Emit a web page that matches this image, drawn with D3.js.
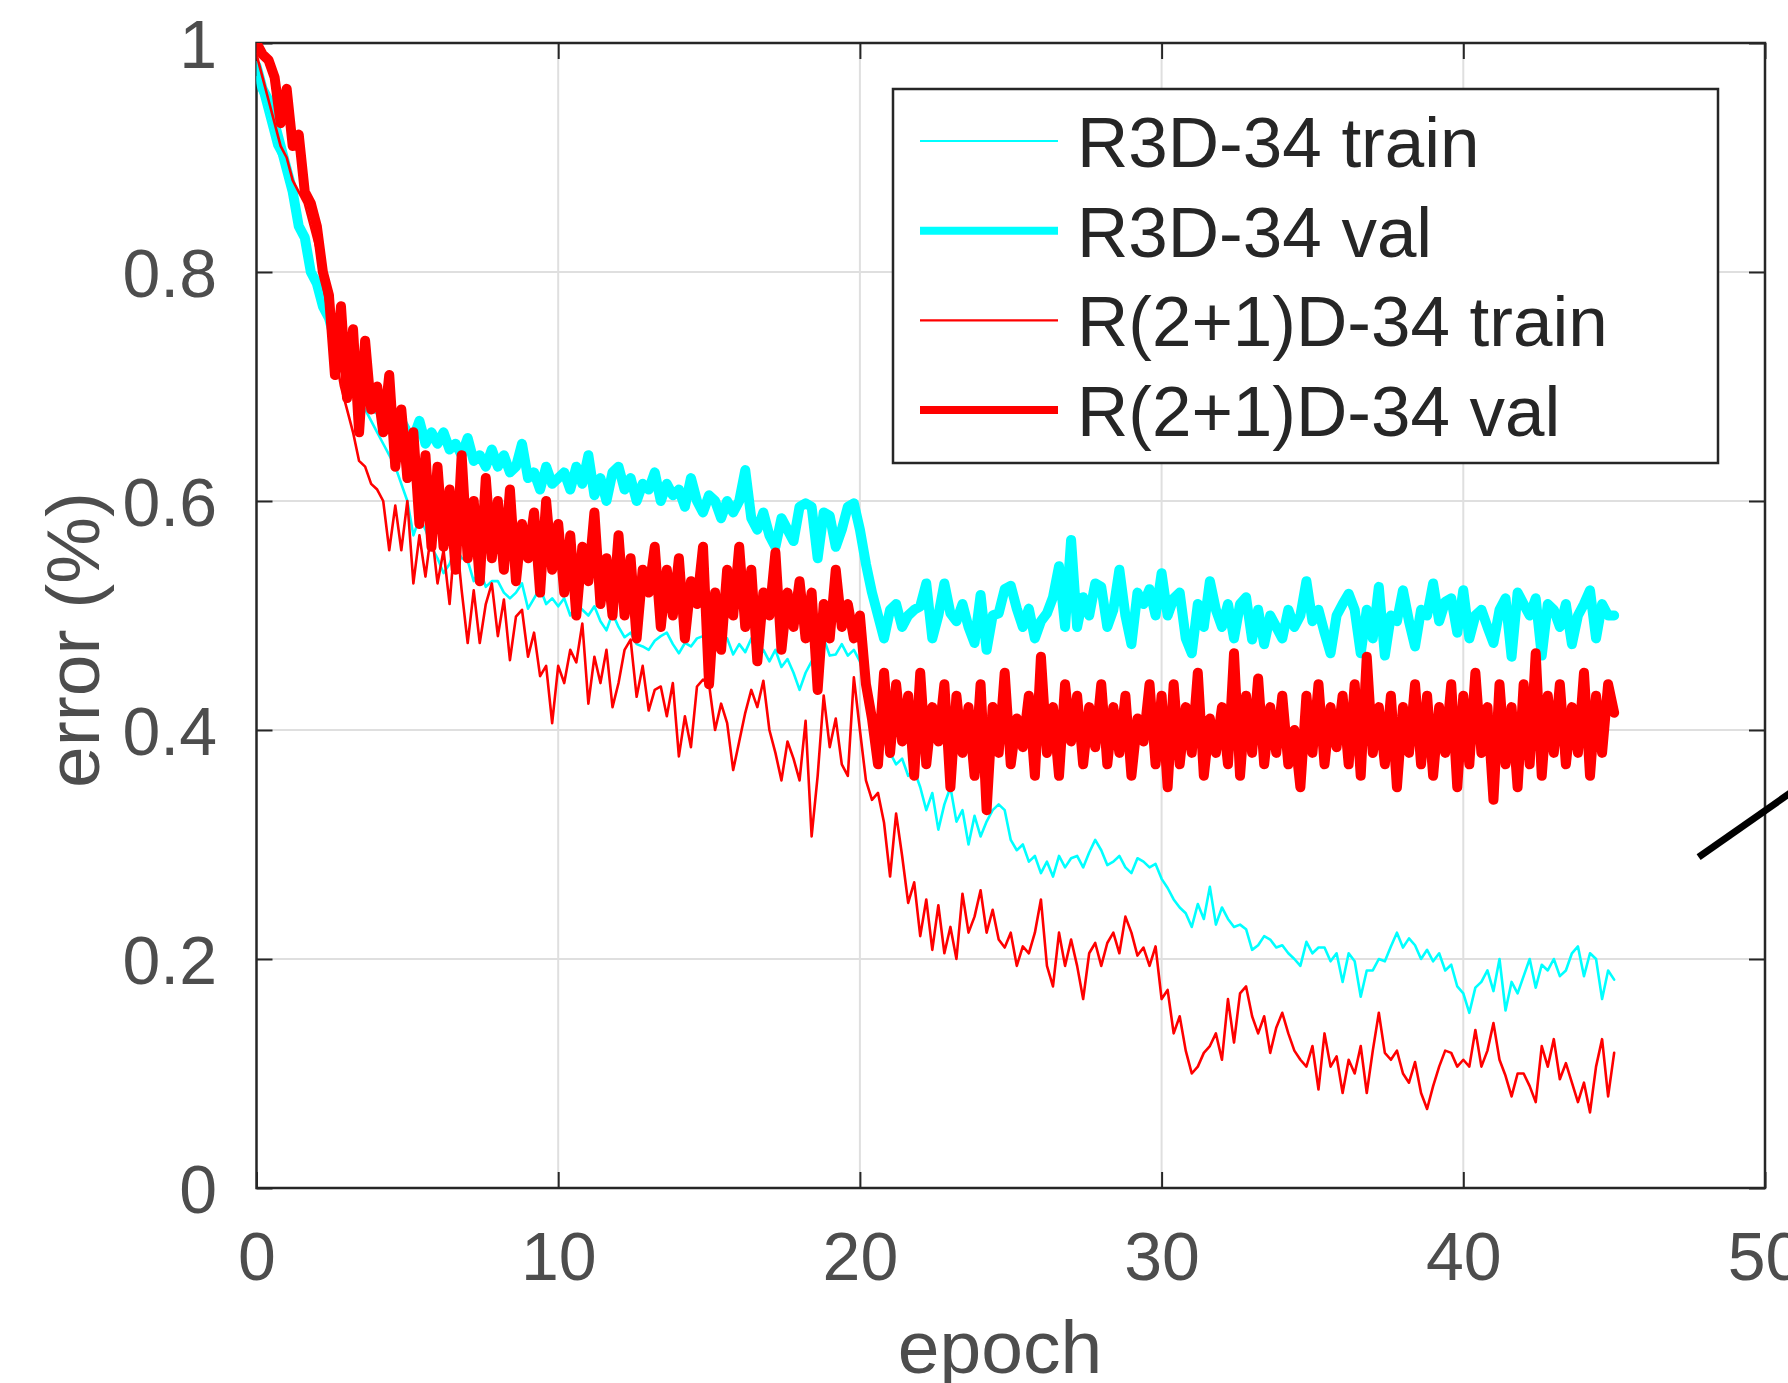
<!DOCTYPE html>
<html>
<head>
	<title>error vs epoch</title>
	<meta charset="UTF-8">
	<style>
		body {
			margin: 0;
			background: #fff;
		}

		text {
			font-family: "Liberation Sans", Arial, Helvetica, sans-serif;
		}

		.grid line {
			stroke: #dfdfdf;
			stroke-width: 2;
		}

		.series {
			fill: none;
			stroke-linejoin: round;
			stroke-linecap: round;
		}
	</style>
</head>
<body>
</body>
<script src="https://d3js.org/d3.v7.min.js"></script>
<script type="text/javascript">

'use strict';

// one sample every 0.2 epoch, starting at epoch 0
var epochStep = 0.2;

var r3dTrain = [
	.97,.95,.93,.91,.90,.88,.86,.85,.83,.81,
	.79,.77,.76,.74,.73,.71,.70,.69,.68,.67,
	.66,.65,.64,.63,.615,.60,.57,.585,.575,.56,
	.55,.537,.545,.56,.55,.548,.53,.54,.525,.53,
	.53,.52,.515,.52,.528,.506,.515,.524,.51,.515,
	.508,.515,.50,.51,.505,.50,.508,.495,.487,.502,
	.49,.481,.485,.475,.473,.47,.478,.482,.485,.475,
	.467,.476,.473,.48,.482,.475,.47,.478,.48,.466,
	.475,.468,.48,.465,.47,.46,.47,.455,.462,.45,
	.435,.45,.46,.47,.48,.465,.466,.475,.465,.47,
	.46,.44,.42,.40,.39,.38,.37,.375,.36,.365,
	.35,.33,.345,.313,.335,.35,.32,.33,.30,.325,
	.307,.32,.33,.335,.33,.304,.295,.30,.285,.29,
	.275,.285,.272,.29,.28,.288,.29,.28,.293,.304,
	.295,.282,.285,.29,.28,.275,.288,.285,.28,.283,
	.27,.262,.252,.245,.24,.228,.248,.235,.263,.23,
	.245,.235,.228,.23,.226,.208,.212,.22,.217,.21,
	.212,.205,.20,.194,.215,.205,.21,.21,.198,.205,
	.18,.205,.198,.167,.19,.19,.20,.198,.211,.223,
	.21,.218,.212,.20,.208,.198,.205,.19,.195,.176,
	.17,.153,.175,.18,.19,.172,.20,.155,.18,.17,
	.185,.20,.175,.195,.19,.20,.185,.19,.205,.211,
	.185,.205,.20,.165,.19,.182
];

var r3dVal = [
	.98,.96,.95,.93,.91,.89,.87,.84,.83,.80,
	.79,.77,.76,.74,.73,.72,.71,.70,.69,.69,
	.68,.68,.67,.665,.67,.66,.655,.67,.65,.66,
	.65,.66,.645,.65,.64,.655,.635,.64,.63,.645,
	.63,.64,.625,.63,.65,.62,.625,.61,.63,.615,
	.62,.625,.61,.63,.615,.64,.605,.62,.60,.625,
	.63,.61,.62,.60,.615,.61,.625,.60,.615,.605,
	.61,.595,.62,.60,.59,.605,.60,.585,.60,.59,
	.60,.627,.585,.575,.59,.57,.56,.585,.575,.565,
	.595,.598,.595,.55,.59,.587,.56,.575,.595,.598,
	.575,.545,.52,.50,.48,.505,.51,.49,.50,.505,
	.508,.528,.48,.50,.528,.502,.495,.51,.49,.476,
	.518,.47,.50,.502,.523,.526,.506,.49,.506,.48,
	.495,.502,.516,.543,.49,.566,.49,.516,.50,.528,
	.525,.49,.505,.54,.50,.475,.52,.51,.523,.50,
	.537,.50,.515,.52,.48,.467,.51,.49,.53,.505,
	.49,.51,.48,.51,.516,.479,.505,.475,.50,.49,
	.48,.505,.49,.50,.53,.495,.505,.485,.467,.50,
	.51,.519,.505,.467,.505,.48,.525,.465,.50,.495,
	.522,.495,.473,.505,.50,.528,.495,.512,.515,.485,
	.522,.48,.50,.505,.49,.476,.505,.515,.464,.52,
	.51,.50,.515,.465,.51,.505,.49,.51,.475,.50,
	.51,.522,.48,.51,.50,.50
];

var r21dTrain = [
	.99,.97,.95,.93,.91,.90,.88,.87,.86,.84,
	.82,.79,.76,.73,.70,.68,.66,.635,.63,.615,
	.61,.60,.557,.596,.557,.60,.528,.57,.534,.575,
	.528,.557,.51,.575,.522,.476,.522,.476,.51,.528,
	.482,.514,.461,.499,.505,.464,.485,.447,.456,.406,
	.456,.441,.47,.459,.493,.423,.464,.441,.47,.42,
	.441,.47,.479,.429,.456,.417,.435,.438,.412,.441,
	.377,.412,.385,.438,.444,.44,.40,.423,.406,.365,
	.39,.415,.435,.42,.443,.40,.38,.356,.39,.375,
	.356,.408,.307,.36,.43,.385,.41,.37,.36,.446,
	.40,.356,.339,.345,.319,.272,.327,.29,.249,.267,
	.22,.252,.208,.247,.205,.228,.20,.257,.223,.237,
	.26,.223,.243,.217,.21,.223,.194,.211,.205,.223,
	.252,.194,.176,.223,.194,.217,.194,.165,.205,.214,
	.194,.214,.223,.205,.237,.223,.203,.21,.194,.211,
	.165,.173,.135,.15,.12,.10,.106,.118,.124,.135,
	.112,.165,.127,.17,.176,.15,.135,.15,.118,.14,
	.153,.135,.12,.112,.106,.124,.086,.135,.106,.115,
	.083,.112,.10,.124,.083,.12,.153,.118,.112,.12,
	.10,.092,.11,.083,.069,.089,.106,.12,.118,.106,
	.112,.106,.138,.106,.12,.144,.112,.098,.08,.10,
	.10,.089,.075,.124,.106,.13,.095,.109,.092,.075,
	.092,.066,.106,.13,.08,.118
];

var r21dVal = [
	1.0,.99,.985,.97,.93,.96,.91,.92,.87,.86,
	.84,.80,.78,.71,.77,.69,.75,.66,.74,.68,
	.70,.66,.71,.63,.68,.62,.66,.58,.64,.56,
	.63,.56,.61,.54,.64,.55,.60,.53,.62,.55,
	.60,.54,.61,.53,.58,.55,.59,.52,.60,.54,
	.58,.52,.57,.50,.56,.53,.59,.51,.55,.50,
	.57,.50,.55,.48,.54,.52,.56,.49,.54,.50,
	.55,.48,.53,.51,.56,.44,.52,.47,.54,.50,
	.56,.49,.54,.46,.52,.50,.555,.47,.52,.49,
	.53,.48,.52,.435,.51,.48,.54,.49,.51,.48,
	.50,.44,.41,.37,.45,.38,.44,.39,.43,.36,
	.45,.37,.42,.39,.44,.35,.43,.38,.42,.36,
	.44,.33,.42,.38,.45,.37,.41,.385,.43,.36,
	.464,.38,.42,.36,.44,.39,.43,.37,.42,.385,
	.44,.37,.42,.38,.43,.36,.41,.39,.44,.37,
	.43,.35,.44,.37,.42,.38,.45,.36,.41,.38,
	.42,.37,.467,.36,.43,.38,.445,.37,.42,.38,
	.43,.37,.40,.35,.43,.38,.44,.37,.42,.385,
	.43,.37,.44,.36,.464,.38,.42,.37,.43,.35,
	.42,.38,.44,.37,.43,.36,.42,.38,.44,.35,
	.43,.37,.45,.38,.42,.339,.44,.37,.42,.35,
	.44,.37,.467,.36,.43,.38,.44,.37,.42,.38,
	.45,.36,.43,.38,.44,.415
];

var seriesNames = ["R3D-34 train", "R3D-34 val", "R(2+1)D-34 train", "R(2+1)D-34 val"];
var seriesData = [r3dTrain, r3dVal, r21dTrain, r21dVal];
var seriesColors = ["#00ffff", "#00ffff", "#ff0000", "#ff0000"];
var seriesWidths = [2.6, 10, 2.6, 10];
var legendWidths = [2.2, 8, 2.2, 8];

var xTicks = [0, 10, 20, 30, 40, 50];
var yTicks = [0, 0.2, 0.4, 0.6, 0.8, 1];
var yTickLabels = ["0", "0.2", "0.4", "0.6", "0.8", "1"];

// stray stroke of the neighbouring panel, in epoch / error units
var strayLine = [[47.8, 0.289], [51, 0.348]];

var svg = d3.select("body").append("svg")
	.attr("width", 1788)
	.attr("height", 1383);

var margin = {top: 43, right: 23, bottom: 195, left: 256.5};
var width = +svg.attr("width") - margin.left - margin.right;
var height = +svg.attr("height") - margin.top - margin.bottom;

var x = d3.scaleLinear().domain([0, 50]).range([0, width]);
var y = d3.scaleLinear().domain([0, 1]).range([height, 0]);

var g = svg.append("g")
	.attr("transform", "translate(" + margin.left + "," + margin.top + ")");

svg.append("defs").append("clipPath")
		.attr("id", "plot-clip")
	.append("rect")
		.attr("width", width)
		.attr("height", height);

// grid
var grid = g.append("g").attr("class", "grid");
grid.selectAll(".gx")
		.data(xTicks.slice(1, -1))
	.enter().append("line")
		.attr("x1", function(d){ return x(d); })
		.attr("x2", function(d){ return x(d); })
		.attr("y1", 0)
		.attr("y2", height);
grid.selectAll(".gy")
		.data(yTicks.slice(1, -1))
	.enter().append("line")
		.attr("x1", 0)
		.attr("x2", width)
		.attr("y1", function(d){ return y(d); })
		.attr("y2", function(d){ return y(d); });

// axes, ticks pointing inward on all four sides
var tickLen = 16;
var axisColor = "#262626";
var labelColor = "#4d4d4d";

var styleAxis = function(sel){
	sel.select(".domain").remove();
	sel.selectAll(".tick line").attr("stroke", axisColor).attr("stroke-width", 2);
	sel.selectAll(".tick text")
		.attr("fill", labelColor)
		.style("font-size", "68px");
};

g.append("g")
	.attr("transform", "translate(0," + height + ")")
	.call(d3.axisBottom(x).tickValues(xTicks).tickSize(-tickLen).tickPadding(44).tickFormat(d3.format("d")))
	.call(styleAxis);

g.append("g")
	.call(d3.axisLeft(y).tickValues(yTicks).tickSize(-tickLen).tickPadding(39.5)
		.tickFormat(function(d, i){ return yTickLabels[i]; }))
	.call(styleAxis)
	.selectAll(".tick text").attr("dy", "0.36em");

g.append("g")
	.call(d3.axisTop(x).tickValues(xTicks).tickSize(-tickLen).tickFormat(""))
	.call(styleAxis);

g.append("g")
	.attr("transform", "translate(" + width + ",0)")
	.call(d3.axisRight(y).tickValues(yTicks).tickSize(-tickLen).tickFormat(""))
	.call(styleAxis);

g.append("rect")
	.attr("width", width)
	.attr("height", height)
	.attr("fill", "none")
	.attr("stroke", axisColor)
	.attr("stroke-width", 2.5);

// data
var line = d3.line()
	.x(function(d, i){ return x(i * epochStep); })
	.y(function(d){ return y(d); });

g.append("g")
		.attr("clip-path", "url(#plot-clip)")
	.selectAll("path")
		.data(seriesData)
	.enter().append("path")
		.attr("class", "series")
		.attr("d", line)
		.attr("stroke", function(d, i){ return seriesColors[i]; })
		.attr("stroke-width", function(d, i){ return seriesWidths[i]; });

g.append("path")
	.attr("d", d3.line().x(function(d){ return x(d[0]); }).y(function(d){ return y(d[1]); })(strayLine))
	.attr("stroke", "#000")
	.attr("stroke-width", 7)
	.attr("fill", "none");

// axis labels
svg.append("text")
	.attr("x", 1000)
	.attr("y", 1373)
	.attr("text-anchor", "middle")
	.attr("fill", labelColor)
	.style("font-size", "75px")
	.text("epoch");

svg.append("text")
	.attr("transform", "translate(99,640) rotate(-90)")
	.attr("text-anchor", "middle")
	.attr("fill", labelColor)
	.style("font-size", "75px")
	.text("error (%)");

// legend
var legend = g.append("g")
	.attr("transform", "translate(636.5,46)");

legend.append("rect")
	.attr("width", 825)
	.attr("height", 374)
	.attr("fill", "#fff")
	.attr("stroke", axisColor)
	.attr("stroke-width", 2.5);

var item = legend.selectAll(".item")
		.data(seriesNames)
	.enter().append("g")
		.attr("class", "item")
		.attr("transform", function(d, i){ return "translate(0," + (52 + i * 89.7) + ")"; });

item.append("line")
	.attr("x1", 27)
	.attr("x2", 165)
	.attr("stroke", function(d, i){ return seriesColors[i]; })
	.attr("stroke-width", function(d, i){ return legendWidths[i]; });

item.append("text")
	.attr("x", 184)
	.attr("y", 26)
	.attr("fill", "#262626")
	.style("font-size", "71px")
	.text(function(d){ return d; });

</script>
</html>
